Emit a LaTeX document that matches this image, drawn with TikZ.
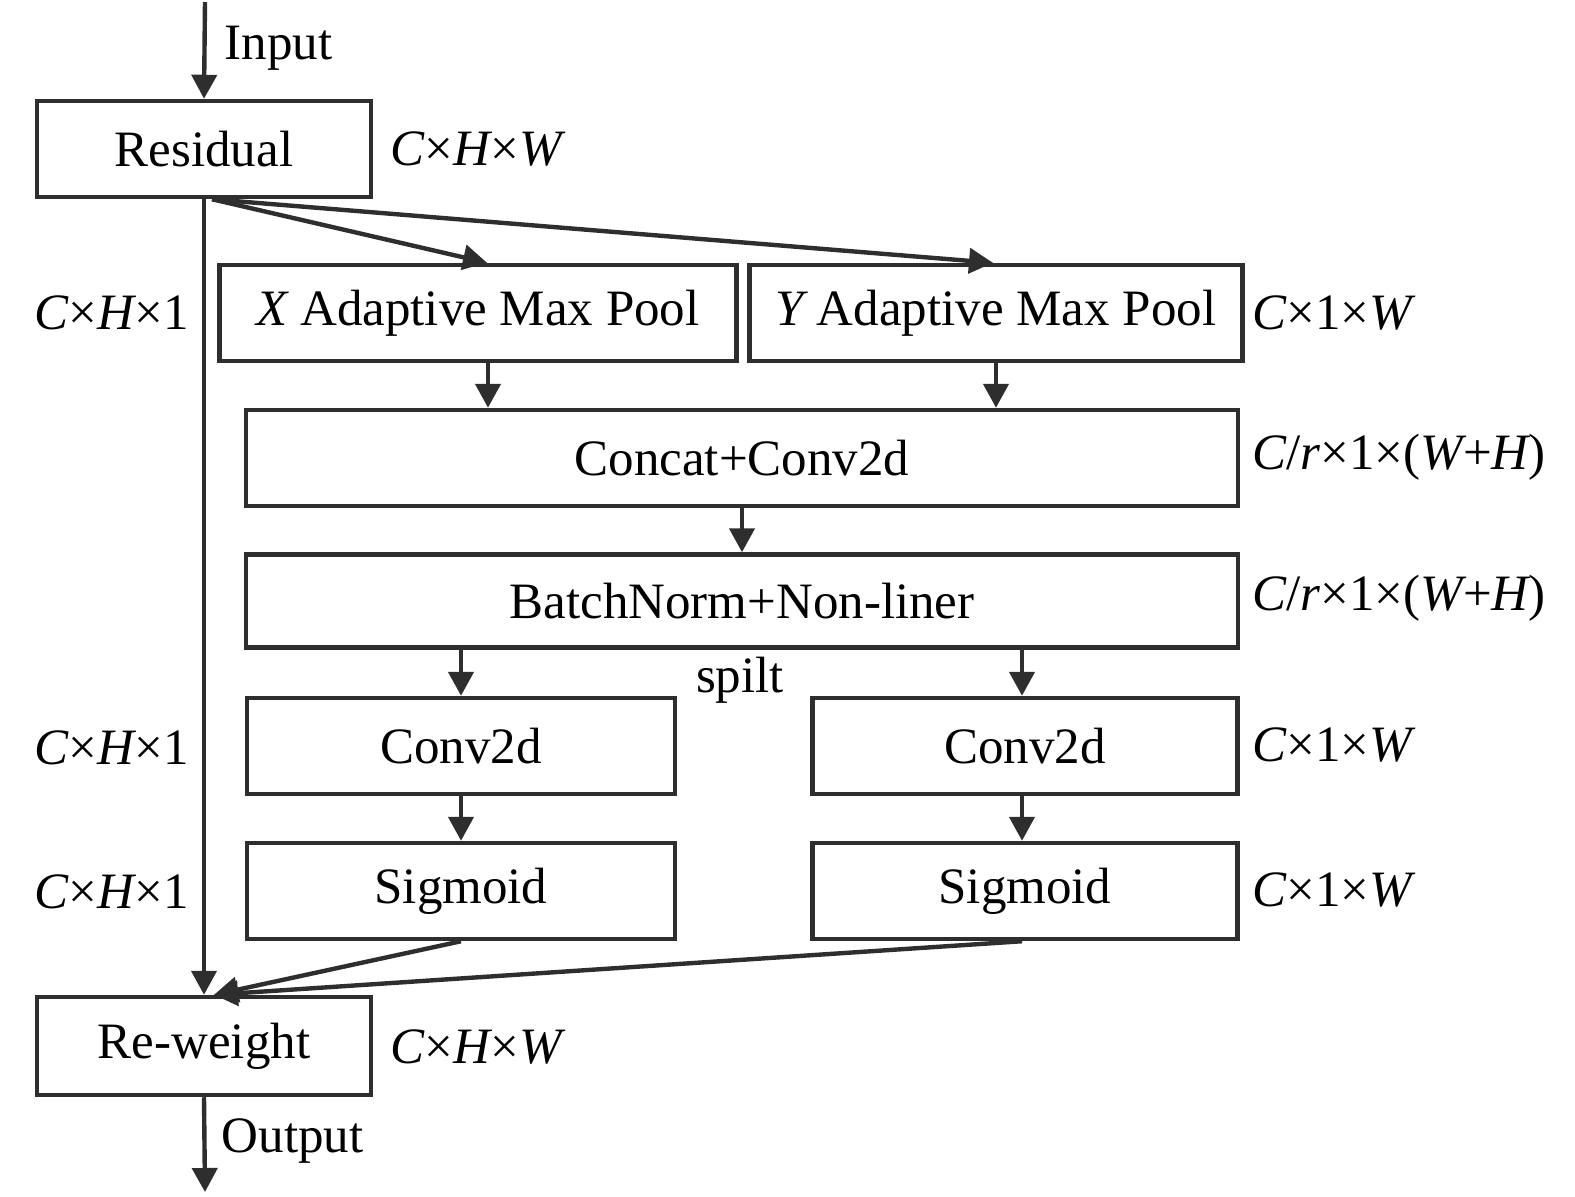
\documentclass[tikz,border=0pt]{standalone}
\usepackage{fontspec}
\setmainfont{Liberation Serif}
\usetikzlibrary{arrows.meta}
\definecolor{inkc}{HTML}{2E2E2E}
\begin{document}
\begin{tikzpicture}[x=0.01cm, y=-0.01cm]
    \tikzset{
      blk/.style={draw=inkc, line width=1.25pt, rectangle, inner sep=0pt,
        minimum height=0.96cm, font=\fontsize{14.5}{17}\selectfont},
      dimlbl/.style={anchor=west, inner sep=0pt, font=\fontsize{14.5}{17}\selectfont},
      arr/.style={draw=inkc, line width=1.25pt, -{Triangle[length=0.24cm,width=0.25cm]}},
    }
    \useasboundingbox (0,0) rectangle (1575,1196);
    % ===== input and residual =====
    \coordinate (in) at (205,2);
    \node[blk, minimum width=3.34cm] (res) at (204,149) {Residual};
    \node[dimlbl] (l-res) at (390,149) {\itshape C\upshape×\itshape H\upshape×\itshape W};
    \draw[arr] (in) -- (res.north);
    \node[dimlbl] (t-in) at (224,48) {Input};
    % ===== pooling =====
    \node[blk, minimum width=5.17cm] (xp) at (478,313) {\itshape X\upshape\ Adaptive Max Pool};
    \node[blk, minimum width=4.93cm] (yp) at (996,313) {\itshape Y\upshape\ Adaptive Max Pool};
    \node[dimlbl] (l-xp) at (34,313) {\itshape C\upshape×\itshape H\upshape×1};
    \node[dimlbl] (l-yp) at (1252,313) {\itshape C\upshape×1×\itshape W};
    \draw[arr] ([xshift=0.08cm]res.south) -- ([xshift=0.09cm]xp.north);
    \draw[arr] ([xshift=0.08cm]res.south) -- ([xshift=-0.03cm]yp.north);
    % ===== concat and norm =====
    \node[blk, minimum width=9.91cm] (cat) at (742,458) {Concat+Conv2d};
    \node[blk, minimum width=9.91cm, minimum height=0.93cm] (bn) at (742,601) {BatchNorm+Non-liner};
    \node[dimlbl] (l-cat) at (1252,457) {\itshape C\upshape/\itshape r\upshape×1×(\itshape W\upshape+\itshape H\upshape)};
    \node[dimlbl] (l-bn) at (1252,598) {\itshape C\upshape/\itshape r\upshape×1×(\itshape W\upshape+\itshape H\upshape)};
    \draw[arr] ([xshift=0.1cm]xp.south) -- ([xshift=0.1cm]xp.south |- cat.north);
    \draw[arr] (yp.south) -- (yp.south |- cat.north);
    \draw[arr] (cat.south) -- (bn.north);
    \node[font=\fontsize{14.5}{17}\selectfont, inner sep=0pt] (spl) at (740,680) {spilt};
    % ===== two branches =====
    \node[blk, minimum width=4.28cm] (cl) at (461,746) {Conv2d};
    \node[blk, minimum width=4.25cm] (cr) at (1025,746) {Conv2d};
    \node[blk, minimum width=4.28cm] (sl) at (461,891) {Sigmoid};
    \node[blk, minimum width=4.25cm] (sr) at (1025,891) {Sigmoid};
    \node[dimlbl] (l-cl) at (34,748) {\itshape C\upshape×\itshape H\upshape×1};
    \node[dimlbl] (l-sl) at (34,892) {\itshape C\upshape×\itshape H\upshape×1};
    \node[dimlbl] (l-cr) at (1252,745) {\itshape C\upshape×1×\itshape W};
    \node[dimlbl] (l-sr) at (1252,890) {\itshape C\upshape×1×\itshape W};
    \draw[arr] (cl.north |- bn.south) -- (cl.north);
    \draw[arr] ([xshift=-0.03cm]cr.north |- bn.south) -- ([xshift=-0.03cm]cr.north);
    \draw[arr] (cl.south) -- (sl.north);
    \draw[arr] ([xshift=-0.03cm]cr.south) -- ([xshift=-0.03cm]sr.north);
    % ===== re-weight and output =====
    \node[blk, minimum width=3.34cm, minimum height=0.98cm] (rw) at (204,1046) {Re-weight};
    \node[dimlbl] (l-rw) at (390,1047) {\itshape C\upshape×\itshape H\upshape×\itshape W};
    \draw[arr] (res.south) -- (rw.north);
    \draw[arr] (sl.south) -- ([xshift=0.1cm]rw.north);
    \draw[arr] ([xshift=-0.03cm]sr.south) -- ([xshift=0.1cm]rw.north);
    \coordinate (out) at (205,1192);
    \draw[arr] (rw.south) -- (out);
    \node[dimlbl] (t-out) at (221,1141) {Output};
\end{tikzpicture}
\end{document}
